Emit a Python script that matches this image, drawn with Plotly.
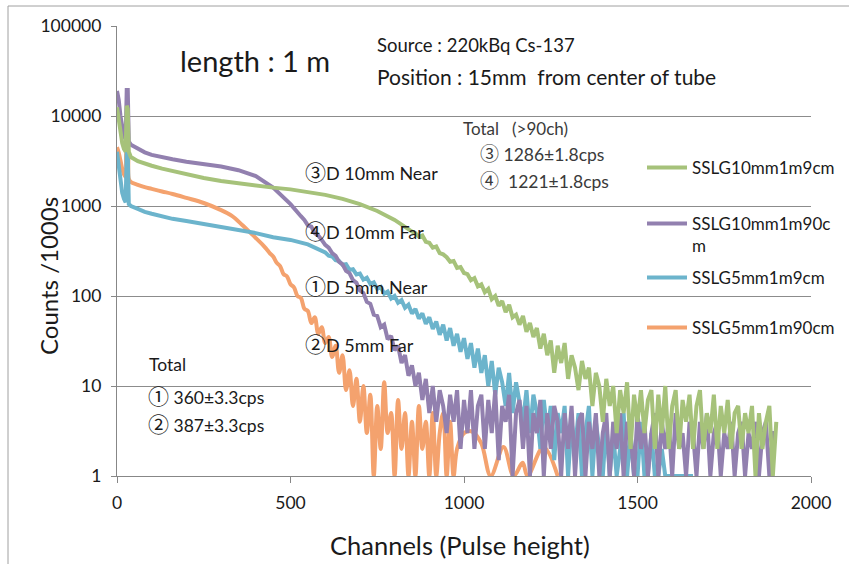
import plotly.graph_objects as go

# ---------------- data ----------------
# SSLG10mm1m9cm  (③ D 10mm Near)
green_ch_head = [0, 5, 10, 15, 20, 25, 28, 31, 34, 40, 60, 80, 100, 130, 160, 200, 250, 300, 350, 400,
                 450, 500, 550, 600, 650, 700, 750, 800, 850]
green_cnt_head = [12500, 9000, 6500, 5000, 4300, 4000, 13000, 12000, 4000, 3500, 3150, 2950, 2800, 2600,
                  2450, 2250, 2050, 1900, 1780, 1680, 1600, 1530, 1440, 1330, 1200, 1050, 880, 700, 520]
green_tail_start = 860
green_cnt_tail = [500, 455, 470, 400, 390, 345, 355, 300, 290, 270, 240, 245, 205, 210, 180, 175, 150, 158,
                  128, 135, 110, 120, 92, 100, 78, 88, 66, 80, 58, 62, 48, 60, 40, 50, 35, 44, 26, 38,
                  22, 32, 14, 28, 18, 30, 12, 22, 16, 9, 19, 12, 16, 6, 14, 10, 4, 12, 6, 10, 3, 9,
                  5, 11, 2, 8, 4, 9, 3, 7, 9, 2, 8, 3, 10, 2, 6, 9, 2, 7, 4, 8, 2, 6, 9, 2, 5, 3,
                  8, 2, 6, 3, 7, 2, 5, 6, 2, 5, 3, 6, 1, 5, 2, 4, 6, 1, 4]

# SSLG10mm1m90cm (④ D 10mm Far)
purple_ch_head = [0, 5, 10, 15, 20, 25, 28, 31, 34, 40, 60, 80, 100, 130, 160, 200, 250, 300, 350, 400,
                  450, 500, 530]
purple_cnt_head = [19000, 15000, 10000, 7500, 6000, 5500, 19500, 19500, 5200, 4800, 4300, 3950, 3700,
                   3450, 3300, 3100, 2950, 2750, 2500, 2150, 1600, 1050, 770]
purple_tail_start = 540
purple_cnt_tail = [700, 610, 590, 500, 470, 420, 370, 345, 300, 280, 240, 225, 190, 180, 150, 140, 115, 108,
                   86, 82, 62, 60, 45, 48, 33, 36, 25, 28, 18, 22, 13, 17, 10, 14, 7, 12, 5, 10, 4, 9,
                   6, 3, 8, 4, 9, 2, 7, 3, 9, 2, 6, 8, 2, 7, 3, 9, 1.5, 6, 4, 8, 1, 5, 7, 2, 6, 1,
                   5, 3, 7, 1, 5, 2, 6, 4, 1, 5, 2, 6, 1, 4, 5, 1, 4, 2, 5, 1, 3, 5, 1, 4, 2, 5,
                   1, 4, 3, 1, 5, 2, 4, 1, 3, 5, 1, 4, 2, 4, 1, 5, 2, 3, 1, 4, 3, 1, 4, 2, 5, 1,
                   3, 4, 1, 3, 2, 4, 1, 3, 4, 1, 3, 2, 4, 1, 3, 4, 1, 3, 3]

# SSLG5mm1m9cm (① D 5mm Near)
blue_ch_head = [0, 5, 10, 15, 20, 25, 28, 31, 34, 40, 60, 80, 100, 130, 160, 200, 250, 300, 350, 400,
                450, 500, 550]
blue_cnt_head = [4000, 2600, 1800, 1400, 1200, 1100, 4000, 4000, 1050, 1000, 930, 860, 820, 770, 720,
                 680, 630, 590, 550, 500, 450, 420, 375]
blue_tail_start = 560
blue_cnt_tail = [360, 340, 330, 310, 305, 280, 275, 250, 245, 222, 225, 195, 198, 174, 178, 152, 160, 136,
                 142, 120, 126, 106, 112, 94, 100, 84, 90, 74, 80, 64, 72, 56, 64, 49, 58, 43, 52, 37,
                 48, 32, 44, 28, 38, 24, 34, 20, 30, 16, 26, 14, 22, 10, 19, 8, 16, 11, 6, 14, 5, 11,
                 7, 4, 9, 3, 8, 5, 2, 7, 3, 6, 1.5, 5, 3, 6, 1, 4, 2, 5, 1, 3, 6, 1, 4, 2, 1, 4,
                 1, 3, 1, 2, 5, 1, 3, 1, 1, 4, 1, 1, 3, 1, 1, 2, 1, 1, 1, 1, 1, 1, 1, 1, 1]

# SSLG5mm1m90cm (② D 5mm Far)
orange_ch_head = [0, 5, 10, 15, 20, 25, 28, 31, 34, 40, 60, 80, 100, 130, 160, 200, 250, 300, 330, 360,
                  390, 420]
orange_cnt_head = [4500, 3900, 3200, 2600, 2250, 2100, 4500, 4500, 2000, 1850, 1720, 1620, 1550, 1450,
                   1360, 1230, 1080, 900, 780, 620, 480, 370]
orange_tail_start = 430
orange_cnt_tail = [335, 300, 275, 235, 215, 175, 165, 135, 125, 100, 95, 72, 68, 50, 58, 38, 45, 30, 35, 21,
                   28, 14, 22, 9, 15, 6, 12, 4, 10, 3, 8, 1, 6, 2, 11, 3, 5, 1, 7, 2, 5, 1, 4, 1,
                   6, 2, 4, 1, 5, 1, 3, 5, 1, 4, 1, 2]
orange_ch_end = [1000, 1025, 1050, 1077, 1114, 1143, 1169, 1183, 1229, 1270]
orange_cnt_end = [3.0, 3.1, 2.3, 1.0, 2.1, 1.0, 1.4, 1.0, 2.1, 1.0]

series_names = ["SSLG10mm1m9cm", "SSLG10mm1m90c<br>m", "SSLG5mm1m9cm", "SSLG5mm1m90cm"]
series_colors = ["#A6C27A", "#9280AF", "#6CB4CC", "#F4A26E"]

y_tickvals = [1, 10, 100, 1000, 10000, 100000]
y_ticktext = ["1", "10", "100", "1000", "10000", "100000"]
x_tickvals = [0, 500, 1000, 1500, 2000]


def build(ch_head, cnt_head, tail_start, cnt_tail, ch_end=(), cnt_end=()):
    xs = list(ch_head) + [tail_start + 10 * i for i in range(len(cnt_tail))] + list(ch_end)
    ys = list(cnt_head) + list(cnt_tail) + list(cnt_end)
    return xs, ys


series = [
    build(green_ch_head, green_cnt_head, green_tail_start, green_cnt_tail),
    build(purple_ch_head, purple_cnt_head, purple_tail_start, purple_cnt_tail),
    build(blue_ch_head, blue_cnt_head, blue_tail_start, blue_cnt_tail),
    build(orange_ch_head, orange_cnt_head, orange_tail_start, orange_cnt_tail, orange_ch_end, orange_cnt_end),
]

# ---------------- layout helpers ----------------
W, H = 849, 564
L, R, T, B = 117, 38, 26, 88
PW, PH = W - L - R, H - T - B


def px(x):
    return (x - L) / PW


def py(y):
    return (H - B - y) / PH


FONT = "Lato, 'Noto Sans CJK JP', sans-serif"


def circ(c, size):
    return f'<span style="font-family:Noto Sans CJK JP;font-size:{size}px">{c}</span>'


fig = go.Figure()
legend_ids = ["legend", "legend2", "legend3", "legend4"]
order = [3, 2, 1, 0]
for i in order:
    xs, ys = series[i]
    fig.add_trace(go.Scatter(
        x=xs, y=ys, mode="lines", name=series_names[i],
        line=dict(color=series_colors[i], width=4,
                  shape="spline" if i == 3 else "linear"),
        legend=legend_ids[i], showlegend=True,
    ))

legend_y_px = [168, 235, 278, 328]
legend_common = dict(bgcolor="rgba(0,0,0,0)", borderwidth=0, valign="top", itemwidth=40,
                     font=dict(family=FONT, size=17, color="#1a1a1a"),
                     xanchor="left", yanchor="middle")
legends = {}
for lid, ypx in zip(legend_ids, legend_y_px):
    legends[lid] = dict(legend_common, x=px(642), y=py(ypx))

annotations = []


def note(text, x, y, size, color="#1a1a1a", **kw):
    d = dict(text=text, x=px(x), y=py(y), xref="paper", yref="paper",
             xanchor="left", yanchor="middle", showarrow=False,
             font=dict(family=FONT, size=size, color=color))
    d.update(kw)
    annotations.append(d)


note("length : 1 m", 178, 60, 29)
note("Source : 220kBq Cs-137", 375, 45, 18.5)
note("Position : 15mm\u00a0\u00a0from center of tube", 375, 76, 21)
note("Total\u00a0\u00a0\u00a0(>90ch)", 461, 128, 17, "#3a3a3a")
note(circ("③", 19) + " 1286±1.8cps", 478, 152, 17.5, "#3a3a3a")
note(circ("④", 19) + "\u00a0 1221±1.8cps", 478, 179, 17.5, "#3a3a3a")
note(circ("③", 21) + "D 10mm Near", 303, 171, 18)
note(circ("④", 21) + "D 10mm Far", 303, 230, 18)
note(circ("①", 21) + "D 5mm Near", 303, 285, 18)
note(circ("②", 21) + "D 5mm Far", 303, 343, 18)
note("Total", 147, 364, 17.5)
note(circ("①", 21) + " 360±3.3cps", 146, 395, 17.5)
note(circ("②", 21) + " 387±3.3cps", 146, 423, 17.5)
# axis titles
annotations.append(dict(text="Counts /1000s", x=px(48), y=py(276), xref="paper", yref="paper",
                        xanchor="center", yanchor="middle", showarrow=False, textangle=-90,
                        font=dict(family=FONT, size=24, color="#1a1a1a")))
annotations.append(dict(text="Channels (Pulse height)", x=px(460), y=py(545), xref="paper", yref="paper",
                        xanchor="center", yanchor="middle", showarrow=False,
                        font=dict(family=FONT, size=25.5, color="#1a1a1a")))

fig.update_layout(
    width=W, height=H,
    margin=dict(l=L, r=R, t=T, b=B, autoexpand=False),
    paper_bgcolor="white", plot_bgcolor="white",
    font=dict(family=FONT, color="#1a1a1a"),
    annotations=annotations,
    shapes=[dict(type="rect", xref="paper", yref="paper",
                 x0=px(8), x1=px(852), y0=py(568), y1=py(6),
                 line=dict(color="#A0A0A0", width=1), fillcolor="rgba(0,0,0,0)", layer="below")],
    **legends,
)

fig.update_xaxes(range=[0, 2000], tickvals=x_tickvals, showgrid=False, zeroline=False, automargin=False,
                 showline=True, linecolor="#878787", linewidth=1.3,
                 ticks="outside", ticklen=6, tickcolor="#878787", ticklabelstandoff=5,
                 tickfont=dict(family=FONT, size=17.5, color="#1a1a1a"))
fig.update_yaxes(type="log", range=[0, 5], tickvals=y_tickvals, ticktext=y_ticktext, automargin=False,
                 showgrid=True, gridcolor="#8C8C8C", gridwidth=1, zeroline=False,
                 showline=True, linecolor="#878787", linewidth=1.3,
                 ticks="outside", ticklen=5, tickcolor="#878787", ticklabelstandoff=6,
                 tickfont=dict(family=FONT, size=17.5, color="#1a1a1a"))

fig.write_html("out.html")
